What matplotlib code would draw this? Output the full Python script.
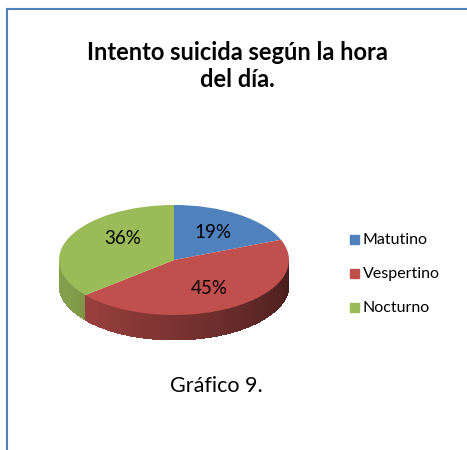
import matplotlib
matplotlib.use('Agg')
import matplotlib.pyplot as plt
import numpy as np
from matplotlib.lines import Line2D
from matplotlib.patches import Rectangle

# data
categories = ['Matutino', 'Vespertino', 'Nocturno']
values = [19, 45, 36]
colors = ['#4F81BD', '#C0504D', '#9BBB59']
title = 'Intento suicida según la hora\ndel día.'
caption = 'Gráfico 9.'

plt.rcParams['font.family'] = ['Lato', 'DejaVu Sans']

W, H = 467, 450
fig = plt.figure(figsize=(W / 100, H / 100), dpi=100)

# frame lines (only top and left visible)
fig.add_artist(Line2D([7 / W, 1], [1 - 9 / H, 1 - 9 / H], color='#4F81BD', lw=1.5))
fig.add_artist(Line2D([7 / W, 7 / W], [1 - 9 / H, 0], color='#4F81BD', lw=1.5))

fig.text(237 / W, 1 - 66 / H, title, ha='center', va='center',
         fontsize=17, fontweight='bold', linespacing=1.25)
fig.text(216 / W, 1 - 386 / H, caption, ha='center', va='center', fontsize=15.5)

# pie axis: ellipse with a 3d side
cx, cy, rx, ry, depth = 174, 260, 115, 55, 25
depth_u = depth / ry
ax = fig.add_axes([(cx - rx) / W, 1 - (cy + ry + depth) / H, 2 * rx / W, (2 * ry + depth) / H])
ax.set_xlim(-1, 1)
ax.set_ylim(-1 - depth_u, 1)
ax.axis('off')

# side wall: small strips over the front half, colored by slice
fracs = np.array(values) / sum(values)
bounds = 90 - 360 * np.concatenate([[0], np.cumsum(fracs)])  # clockwise from top
angles = np.linspace(180, 360, 181)
for a0, a1 in zip(angles[:-1], angles[1:]):
    am = 0.5 * (a0 + a1)
    am_n = am - 360 if am > 90 else am
    idx = 0
    for i in range(len(values)):
        lo, hi = bounds[i + 1], bounds[i]
        if lo <= am_n <= hi or lo <= am_n - 360 <= hi:
            idx = i
    f = np.clip(0.85 - 0.5 * (am - 205) / 155, 0.35, 0.85)
    base = np.array(matplotlib.colors.to_rgb(colors[idx]))
    c = base * f
    t = np.radians([a0 - 0.3, a1 + 0.3])
    xs = np.cos(t)
    ys = np.sin(t)
    ax.fill([xs[0], xs[1], xs[1], xs[0]],
            [ys[0], ys[1], ys[1] - depth_u, ys[0] - depth_u],
            color=c, lw=0, antialiased=False)

wedges, texts, autotexts = ax.pie(values, colors=colors, startangle=90, counterclock=False,
                                  autopct='%1.0f%%', pctdistance=0.6,
                                  wedgeprops=dict(linewidth=0),
                                  textprops=dict(fontsize=13.5, color='black'))
ax.set_aspect('auto')
ax.set_xlim(-1, 1)
ax.set_ylim(-1 - depth_u, 1)
autotexts[2].set_position((-0.45, 0.4))

# legend
for i, lab in enumerate(categories):
    y = 240 + 34 * i
    fig.add_artist(Rectangle(((350) / W, 1 - (y + 4) / H), 9 / W, 9 / H,
                             transform=fig.transFigure, color=colors[i]))
    fig.text(363 / W, 1 - y / H, lab, ha='left', va='center', fontsize=11.5)

fig.savefig('out.png', dpi=100)
